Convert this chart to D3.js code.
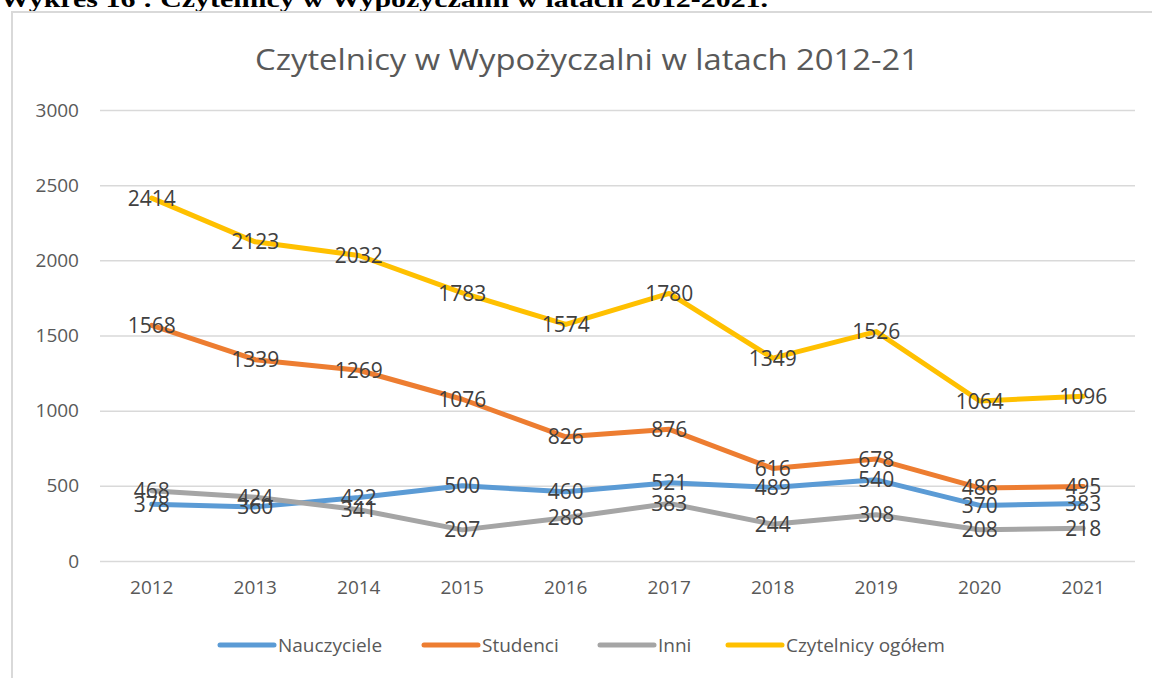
<!DOCTYPE html>
<meta charset="utf-8">
<style>
body { margin: 0; background: white; }
text { font-family: "Open Sans", "Noto Sans", sans-serif; }
</style>
<script src="https://cdn.jsdelivr.net/npm/d3@7/dist/d3.min.js"></script>
<body>
<script>
const years = ['2012', '2013', '2014', '2015', '2016', '2017', '2018', '2019', '2020', '2021'];
const nauczyciele = [378, 360, 422, 500, 460, 521, 489, 540, 370, 383];
const studenci = [1568, 1339, 1269, 1076, 826, 876, 616, 678, 486, 495];
const inni = [468, 424, 341, 207, 288, 383, 244, 308, 208, 218];
const ogolem = [2414, 2123, 2032, 1783, 1574, 1780, 1349, 1526, 1064, 1096];
const yTicks = [0, 500, 1000, 1500, 2000, 2500, 3000];

const series = [
  {name: 'Nauczyciele', values: nauczyciele, color: '#5b9bd5'},
  {name: 'Studenci', values: studenci, color: '#ed7d31'},
  {name: 'Inni', values: inni, color: '#a5a5a5'},
  {name: 'Czytelnicy ogółem', values: ogolem, color: '#ffc000'}
];

const W = 1152, H = 678;
const plotLeft = 100, plotRight = 1135, plotTop = 110, plotBottom = 561;

const svg = d3.select('body')
  .append('svg')
    .attr('width', W)
    .attr('height', H);

// document heading, cut off at the top
svg.append('text')
  .attr('x', 0)
  .attr('y', 7)
  .attr('textLength', 768)
  .attr('lengthAdjust', 'spacingAndGlyphs')
  .style('font-family', '"Liberation Serif", serif')
  .style('font-weight', 'bold')
  .style('font-size', '24px')
  .text('Wykres 16 : Czytelnicy w Wypożyczalni w latach 2012-2021.');

// chart frame
svg.append('rect')
  .attr('x', 12)
  .attr('y', 12)
  .attr('width', W + 20)
  .attr('height', H + 20)
  .attr('fill', 'none')
  .attr('stroke', '#d9d9d9')
  .attr('stroke-width', 2);

svg.append('text')
  .attr('x', 587)
  .attr('y', 70)
  .attr('text-anchor', 'middle')
  .attr('textLength', 664)
  .attr('lengthAdjust', 'spacingAndGlyphs')
  .style('font-size', '29px')
  .style('fill', '#595959')
  .text('Czytelnicy w Wypożyczalni w latach 2012-21');

const x = d3.scaleBand()
  .domain(years)
  .range([plotLeft, plotRight]);

const y = d3.scaleLinear()
  .domain([0, 3000])
  .range([plotBottom, plotTop]);

// gridlines
svg.append('g')
  .attr('transform', `translate(${plotLeft}, 0)`)
  .call(d3.axisLeft(y).tickValues(yTicks).tickFormat(d3.format('d'))
    .tickSize(-(plotRight - plotLeft)).tickPadding(21))
  .call(g => g.select('.domain').remove())
  .call(g => g.selectAll('line').attr('stroke', '#d9d9d9').attr('stroke-width', 1.5))
  .call(g => g.selectAll('text')
    .style('font-size', '19px')
    .style('fill', '#595959')
    .style('font-family', '"Open Sans", sans-serif'));

svg.append('g')
  .attr('transform', `translate(0, ${plotBottom})`)
  .call(d3.axisBottom(x).tickSize(0).tickPadding(20))
  .call(g => g.select('.domain').remove())
  .call(g => g.selectAll('text')
    .style('font-size', '19px')
    .style('fill', '#595959')
    .style('font-family', '"Open Sans", sans-serif'));

const line = d3.line()
  .x((d, i) => x(years[i]) + x.bandwidth() / 2)
  .y(d => y(d));

svg.selectAll('.series')
  .data(series)
  .enter()
  .append('path')
    .attr('class', 'series')
    .attr('d', d => line(d.values))
    .attr('fill', 'none')
    .attr('stroke', d => d.color)
    .attr('stroke-width', 5)
    .attr('stroke-linejoin', 'round')
    .attr('stroke-linecap', 'round');

// data labels, centred on the points
series.forEach(s => {
  svg.append('g')
    .selectAll('text')
    .data(s.values)
    .enter()
    .append('text')
      .attr('x', (d, i) => x(years[i]) + x.bandwidth() / 2)
      .attr('y', d => y(d))
      .attr('dy', '0.36em')
      .attr('text-anchor', 'middle')
      .style('font-size', '21px')
      .style('fill', '#404040')
      .text(d => d);
});

// legend
const legendPos = [220, 424, 600, 728];
const legend = svg.selectAll('.legend')
  .data(series)
  .enter()
  .append('g')
    .attr('class', 'legend')
    .attr('transform', (d, i) => `translate(${legendPos[i]}, 645)`);

legend.append('line')
  .attr('x1', 0)
  .attr('x2', 54)
  .attr('stroke', d => d.color)
  .attr('stroke-width', 5)
  .attr('stroke-linecap', 'round');

legend.append('text')
  .attr('x', 58)
  .attr('dy', '0.35em')
  .style('font-size', '19px')
  .style('fill', '#595959')
  .text(d => d.name);
</script>
</body>
</html>
